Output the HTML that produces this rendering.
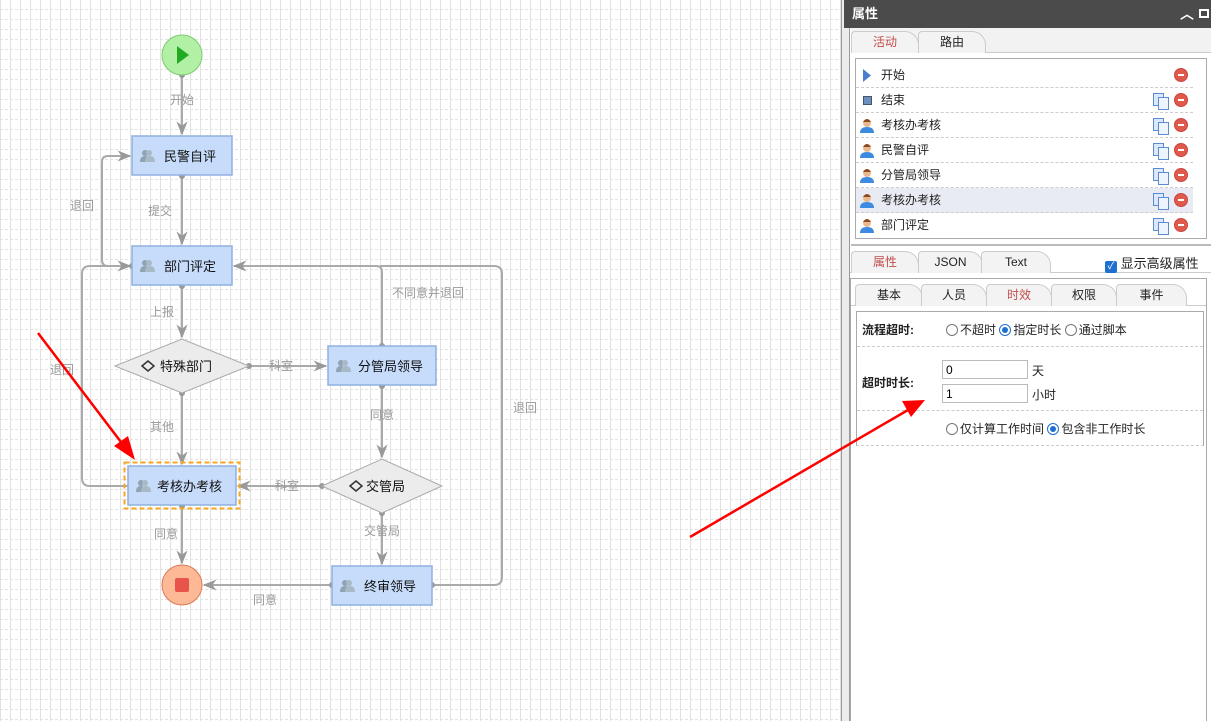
<!DOCTYPE html>
<html><head><meta charset="utf-8"><style>
*{margin:0;padding:0;box-sizing:border-box}
body{width:1211px;height:721px;overflow:hidden;position:relative;background:#fff;font-family:"Liberation Sans","Noto Sans CJK SC",sans-serif;font-size:12px;color:#222}
#canvas{position:absolute;left:0;top:0;width:841px;height:721px;
background-image:repeating-linear-gradient(90deg,transparent 0 3px,#fff 3px 5px),linear-gradient(90deg,#e2e2e2 1px,transparent 1px),repeating-linear-gradient(0deg,transparent 0 3px,#fff 3px 5px),linear-gradient(0deg,#e2e2e2 1px,transparent 1px);
background-size:10px 10px,10px 10px,10px 10px,10px 10px}
.a{position:absolute}
.panel{position:absolute;left:841px;top:0;width:370px;height:721px;background:#fff;border-left:1px solid #999}
.strip{position:absolute;left:0;top:0;width:8px;height:721px;background:#ececec;border-right:1px solid #999}
.tab{position:absolute;height:22px;border:1px solid #ccc;border-bottom:none;border-radius:4px 14px 0 0;background:#f3f3f3;text-align:center;line-height:21px;font-size:12px}
.row{position:absolute;left:856px;width:337px;height:25px;border-bottom:1px dashed #ccc;line-height:24px}
.row span{position:absolute;left:25px}
.ic{position:absolute;left:5px;top:6px;width:13px;height:13px}
.del{position:absolute;left:318px;top:5px;width:14px;height:14px;border-radius:50%;background:#e05a4b;border:1px solid #c44}
.del:after{content:"";position:absolute;left:3px;top:5px;width:6px;height:2px;background:#fff}
.cp{position:absolute;left:297px;top:5px;width:11px;height:13px;border:1px solid #5b8bd0;background:#dce8fb}
.cp:after{content:"";position:absolute;left:4px;top:3px;width:9px;height:11px;border:1px solid #5b8bd0;background:#eef4fd}
.user{position:absolute;left:4px;top:5px;width:14px;height:15px}
.radio{display:inline-block;width:12px;height:12px;border:1px solid #777;border-radius:50%;vertical-align:-2px;margin-right:2px;background:#fff;position:relative}
.radio.on{border-color:#1e6fd0}
.radio.on:after{content:"";position:absolute;left:2px;top:2px;width:6px;height:6px;border-radius:50%;background:#1e6fd0}
input{position:absolute;height:19px;border:1px solid #bbb;font-size:12px;padding-left:3px;font-family:"Liberation Sans",sans-serif}
</style></head><body>
<div id="canvas"></div>
<svg class="a" style="left:0;top:0" width="841" height="721" font-family="Liberation Sans, Noto Sans CJK SC, sans-serif">
<defs>
<marker id="ar" viewBox="0 0 10 10" refX="9" refY="5" markerWidth="7" markerHeight="7" orient="auto"><path d="M0,1 L10,5 L0,9 L3,5z" fill="#999"/></marker>
<g id="usr"><circle cx="5" cy="4" r="3" fill="#8fa3b3"/><path d="M0,13 q0,-6 5,-6 q5,0 5,6z" fill="#8fa3b3"/><circle cx="9" cy="4" r="3" fill="#a9bac7"/><path d="M5,13 q0,-6 5,-6 q5,0 5,6z" fill="#a9bac7"/></g>
</defs>
<g stroke="#aaa" stroke-width="2" fill="none">
<line x1="182" y1="75" x2="182" y2="134" marker-end="url(#ar)"/>
<line x1="182" y1="176" x2="182" y2="244" marker-end="url(#ar)"/>
<line x1="182" y1="286" x2="182" y2="337" marker-end="url(#ar)"/>
<line x1="249" y1="366" x2="326" y2="366" marker-end="url(#ar)"/>
<line x1="182" y1="393" x2="182" y2="464" marker-end="url(#ar)"/>
<line x1="382" y1="386" x2="382" y2="457" marker-end="url(#ar)"/>
<line x1="322" y1="486" x2="238" y2="486" marker-end="url(#ar)"/>
<line x1="382" y1="513" x2="382" y2="564" marker-end="url(#ar)"/>
<line x1="182" y1="506" x2="182" y2="563" marker-end="url(#ar)"/>
<line x1="332" y1="585" x2="204" y2="585" marker-end="url(#ar)"/>
<path d="M382,346 V272 q0,-6 -6,-6 H234" marker-end="url(#ar)"/>
<path d="M432,585 H494 q8,0 8,-8 V274 q0,-8 -8,-8 H380"/>
<path d="M132,266 H108 q-6,0 -6,-6 V162 q0,-6 6,-6 H130" marker-end="url(#ar)"/>
<path d="M128,486 H90 q-8,0 -8,-8 V274 q0,-8 8,-8 H130" marker-end="url(#ar)"/>
</g>
<g fill="#999"><circle cx="182" cy="75" r="3"/><circle cx="182" cy="176" r="3"/><circle cx="182" cy="286" r="3"/><circle cx="249" cy="366" r="3"/><circle cx="182" cy="393" r="3"/><circle cx="382" cy="386" r="3"/><circle cx="382" cy="346" r="3"/><circle cx="322" cy="486" r="3"/><circle cx="382" cy="513" r="3"/><circle cx="182" cy="506" r="3"/><circle cx="332" cy="585" r="3"/><circle cx="432" cy="585" r="3"/><circle cx="132" cy="266" r="3"/></g>
<circle cx="182" cy="55" r="20" fill="#b2f0a5" stroke="#7ccb6e"/>
<path d="M177,46 L189,55 L177,64z" fill="#22aa22"/>
<circle cx="182" cy="585" r="20" fill="#fdb896" stroke="#d97a55"/>
<rect x="175" y="578" width="14" height="14" rx="2" fill="#e8534a"/>
<g fill="#c6dcfa" stroke="#8fb0e0" stroke-width="1.5">
<rect x="132" y="136" width="100" height="39"/>
<rect x="132" y="246" width="100" height="39"/>
<rect x="328" y="346" width="108" height="39"/>
<rect x="128" y="466" width="108" height="39"/>
<rect x="332" y="566" width="100" height="39"/>
</g>
<rect x="124.5" y="462.5" width="115" height="46" fill="none" stroke="#f5a623" stroke-width="2" stroke-dasharray="5,3"/>
<g fill="#ececec" stroke="#aaa"><path d="M115,366 L182,339 L249,366 L182,393z"/><path d="M322,486 L382,459 L442,486 L382,513z"/></g>
<use href="#usr" x="140" y="149"/><use href="#usr" x="140" y="259"/><use href="#usr" x="336" y="359"/><use href="#usr" x="136" y="479"/><use href="#usr" x="340" y="579"/>
<g fill="none" stroke="#333" stroke-width="1.5"><path d="M142,366 l6,-5 l6,5 l-6,5z"/><path d="M350,486 l6,-5 l6,5 l-6,5z"/></g>
<g font-size="13" fill="#111">
<text x="164" y="161">民警自评</text><text x="164" y="271">部门评定</text><text x="160" y="371">特殊部门</text>
<text x="358" y="371">分管局领导</text><text x="157" y="491">考核办考核</text><text x="366" y="491">交管局</text><text x="364" y="591">终审领导</text>
</g>
<g font-size="12" fill="#999" text-anchor="middle">
<text x="182" y="104">开始</text><text x="160" y="215">提交</text><text x="162" y="316">上报</text><text x="281" y="370">科室</text>
<text x="162" y="431">其他</text><text x="382" y="419">同意</text><text x="287" y="490">科室</text><text x="382" y="535">交管局</text>
<text x="166" y="538">同意</text><text x="265" y="604">同意</text><text x="428" y="297">不同意并退回</text><text x="525" y="412">退回</text>
<text x="82" y="210">退回</text><text x="62" y="374">退回</text>
</g>
</svg>

<div class="panel"><div class="strip"></div>
<div class="a" style="left:2px;top:0;width:368px;height:28px;background:#4b4b4b;color:#fff;font-weight:bold;font-size:13px;line-height:28px;padding-left:8px">属性<span style="position:absolute;right:18px;top:0;font-size:14px">︿</span><span style="position:absolute;right:3px;top:9px;width:10px;height:9px;border:2px solid #fff"></span></div>
<div class="a" style="left:9px;top:28px;width:361px;height:25px;background:#f2f2f2;border-bottom:1px solid #ccc"></div>
<div class="a" style="left:9px;top:244px;width:361px;height:477px;border-top:2px solid #bbb"></div>
</div>
<div class="tab" style="left:851px;top:31px;width:68px;color:#c0504d">活动</div>
<div class="tab" style="left:918px;top:31px;width:68px">路由</div>
<div class="a" style="left:855px;top:58px;width:352px;height:181px;border:1px solid #aaa"></div>
<div class="row" style="top:63px"><svg class="ic" viewBox="0 0 13 13"><path d="M2,0 L10,6.5 L2,13z" fill="#4a7fd0"/></svg><span>开始</span><div class="del"></div></div>
<div class="row" style="top:88px"><div class="ic" style="left:7px;top:8px;width:9px;height:9px;background:#6d8fc0;border:1px solid #456"></div><span>结束</span><div class="cp"></div><div class="del"></div></div>
<div class="row" style="top:113px"><svg class="user" viewBox="0 0 14 15"><circle cx="7" cy="5" r="4" fill="#e9b88f"/><path d="M3,4 q4,-6 8,0z" fill="#8a4b20"/><path d="M0,15 q0,-6 7,-6 q7,0 7,6z" fill="#3d8be0"/></svg><span>考核办考核</span><div class="cp"></div><div class="del"></div></div>
<div class="row" style="top:138px"><svg class="user" viewBox="0 0 14 15"><circle cx="7" cy="5" r="4" fill="#e9b88f"/><path d="M3,4 q4,-6 8,0z" fill="#8a4b20"/><path d="M0,15 q0,-6 7,-6 q7,0 7,6z" fill="#3d8be0"/></svg><span>民警自评</span><div class="cp"></div><div class="del"></div></div>
<div class="row" style="top:163px"><svg class="user" viewBox="0 0 14 15"><circle cx="7" cy="5" r="4" fill="#e9b88f"/><path d="M3,4 q4,-6 8,0z" fill="#8a4b20"/><path d="M0,15 q0,-6 7,-6 q7,0 7,6z" fill="#3d8be0"/></svg><span>分管局领导</span><div class="cp"></div><div class="del"></div></div>
<div class="row" style="top:188px;background:#e8ebf3"><svg class="user" viewBox="0 0 14 15"><circle cx="7" cy="5" r="4" fill="#e9b88f"/><path d="M3,4 q4,-6 8,0z" fill="#8a4b20"/><path d="M0,15 q0,-6 7,-6 q7,0 7,6z" fill="#3d8be0"/></svg><span>考核办考核</span><div class="cp"></div><div class="del"></div></div>
<div class="row" style="top:213px;border-bottom:none"><svg class="user" viewBox="0 0 14 15"><circle cx="7" cy="5" r="4" fill="#e9b88f"/><path d="M3,4 q4,-6 8,0z" fill="#8a4b20"/><path d="M0,15 q0,-6 7,-6 q7,0 7,6z" fill="#3d8be0"/></svg><span>部门评定</span><div class="cp"></div><div class="del"></div></div>

<div class="a" style="left:850px;top:272px;width:361px;height:1px;background:#ccc"></div>
<div class="tab" style="left:851px;top:251px;width:68px;color:#c0504d">属性</div>
<div class="tab" style="left:918px;top:251px;width:65px">JSON</div>
<div class="tab" style="left:981px;top:251px;width:70px">Text</div>
<div class="a" style="left:1105px;top:253px;font-size:13px"><span style="display:inline-block;width:12px;height:12px;background:#1e6fd0;border-radius:2px;color:#fff;font-size:10px;line-height:12px;text-align:center;vertical-align:-1px">✓</span> 显示高级属性</div>
<div class="a" style="left:850px;top:278px;width:357px;height:443px;border:1px solid #aaa;border-bottom:none"></div>
<div class="a" style="left:851px;top:305px;width:355px;height:1px;background:#ccc"></div>
<div class="tab" style="left:855px;top:284px;width:68px">基本</div>
<div class="tab" style="left:921px;top:284px;width:66px">人员</div>
<div class="tab" style="left:986px;top:284px;width:66px;color:#c0504d">时效</div>
<div class="tab" style="left:1051px;top:284px;width:66px">权限</div>
<div class="tab" style="left:1116px;top:284px;width:71px">事件</div>
<div class="a" style="left:856px;top:311px;width:348px;height:135px;border:1px solid #aaa;border-bottom:1px dashed #ccc"></div>
<div class="a" style="left:857px;top:346px;width:346px;border-top:1px dashed #ccc"></div>
<div class="a" style="left:857px;top:410px;width:346px;border-top:1px dashed #ccc"></div>
<div class="a" style="left:862px;top:321px;font-weight:bold">流程超时:</div>
<div class="a" style="left:946px;top:321px"><span class="radio"></span>不超时 <span class="radio on"></span>指定时长 <span class="radio"></span>通过脚本</div>
<div class="a" style="left:862px;top:374px;font-weight:bold">超时时长:</div>
<input style="left:942px;top:360px;width:86px" value="0"><div class="a" style="left:1032px;top:362px">天</div>
<input style="left:942px;top:384px;width:86px" value="1"><div class="a" style="left:1032px;top:386px">小时</div>
<div class="a" style="left:946px;top:420px"><span class="radio"></span>仅计算工作时间 <span class="radio on"></span>包含非工作时长</div>
<svg class="a" style="left:0;top:0" width="1211" height="721">
<line x1="38" y1="333" x2="124" y2="446" stroke="#f00" stroke-width="2.5"/>
<path d="M135,460 L114,446 L128,436z" fill="#f00"/>
<line x1="690" y1="537" x2="908" y2="410" stroke="#f00" stroke-width="2.5"/>
<path d="M925,400 L902,401 L911,417z" fill="#f00"/>
</svg>
</body></html>
